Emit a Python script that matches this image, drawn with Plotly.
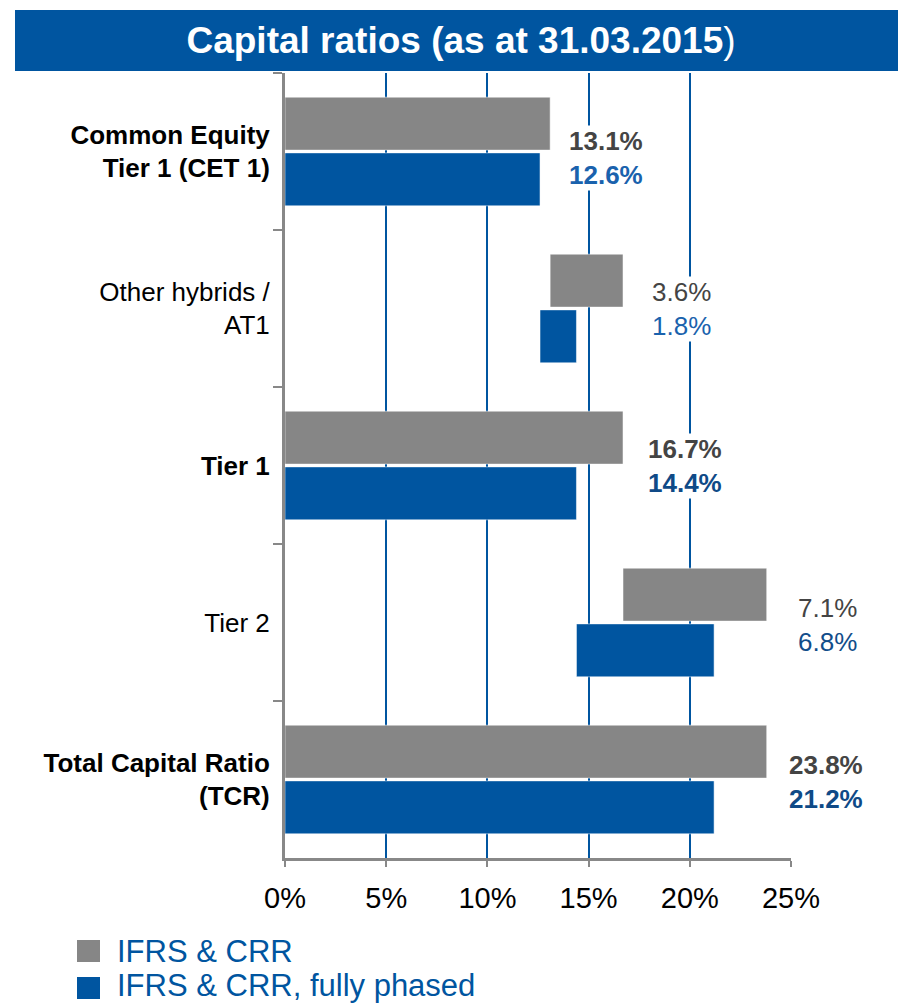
import plotly.graph_objects as go

# ---- data ----
categories = ["Common Equity Tier 1 (CET 1)", "Other hybrids / AT1", "Tier 1", "Tier 2",
              "Total Capital Ratio (TCR)"]
tick_labels = ["<b>Common Equity</b><br><b>Tier 1 (CET 1)</b>", "Other hybrids /<br>AT1",
               "<b>Tier 1</b>", "Tier 2", "<b>Total Capital Ratio</b><br><b>(TCR)</b>"]
bar_kind = ["total", "increment", "total", "increment", "total"]
ifrs_crr = [13.1, 3.6, 16.7, 7.1, 23.8]
fully_phased = [12.6, 1.8, 14.4, 6.8, 21.2]
series_names = ["IFRS & CRR", "IFRS & CRR, fully phased"]
x_ticks = [0, 5, 10, 15, 20, 25]
x_tick_text = ["0%", "5%", "10%", "15%", "20%", "25%"]

# ---- styles ----
FONT = "Liberation Sans, Arial, sans-serif"
GRAY = "#868686"
BLUE = "#0055A0"
AXIS_GRAY = "#888888"
label_bold = [True, False, True, False, True]
gray_label_color = "#444444"
blue_label_colors = ["#1a62ad", "#1a62ad", "#0f4a87", "#124d8a", "#0f4a87"]
label_xshift = [56, 58, 62, 61, 59]
label_yshift = [-6, 0, 0, -2, -2]


def bases(values, kinds):
    out, prev_end = [], 0.0
    for v, k in zip(values, kinds):
        b = prev_end if k == "increment" else 0.0
        out.append(b)
        prev_end = b + v
    return out


ifrs_base = bases(ifrs_crr, bar_kind)
fp_base = bases(fully_phased, bar_kind)

fig = go.Figure()
fig.add_trace(go.Bar(y=tick_labels, x=ifrs_crr, base=ifrs_base, orientation="h",
                     name=series_names[0],
                     marker=dict(color=GRAY, line=dict(color="rgba(255,255,255,0.5)", width=1))))
fig.add_trace(go.Bar(y=tick_labels, x=fully_phased, base=fp_base, orientation="h",
                     name=series_names[1],
                     marker=dict(color=BLUE, line=dict(color="rgba(255,255,255,0.5)", width=1))))

# value labels
for i, lab in enumerate(tick_labels):
    a = f"{ifrs_crr[i]:.1f}%"
    b = f"{fully_phased[i]:.1f}%"
    if label_bold[i]:
        txt = (f"<b><span style='color:{gray_label_color}'>{a}</span></b><br>"
               f"<b><span style='color:{blue_label_colors[i]}'>{b}</span></b>")
    else:
        txt = (f"<span style='color:{gray_label_color}'>{a}</span><br>"
               f"<span style='color:{blue_label_colors[i]}'>{b}</span>")
    fig.add_annotation(x=ifrs_base[i] + ifrs_crr[i], y=lab, xref="x", yref="y",
                       text=txt, showarrow=False, xanchor="center", yanchor="middle",
                       xshift=label_xshift[i], yshift=label_yshift[i],
                       font=dict(family=FONT, size=26), bgcolor="white", borderpad=0,
                       align="center")

# title banner
fig.add_shape(type="rect", xref="paper", yref="paper", x0=-0.5336, x1=1.23, y0=1.0025, y1=1.0803,
              fillcolor=BLUE, line=dict(width=0), layer="above")

# custom legend
legend_rows = [(-104, -82, GRAY), (-141, -119, BLUE)]
for (y0, y1, c), name, ty in zip(legend_rows, series_names, [-0.1185, -0.163]):
    fig.add_shape(type="rect", xref="paper", yref="paper", xsizemode="pixel", ysizemode="pixel",
                  xanchor=0, yanchor=0, x0=-208, x1=-185, y0=y0, y1=y1,
                  fillcolor=c, line=dict(width=0))
    fig.add_annotation(x=-0.336, y=ty, xref="paper", yref="paper", text=name, showarrow=False,
                       xanchor="left", yanchor="middle", font=dict(family=FONT, size=31, color=BLUE))

fig.update_layout(
    width=898, height=1003,
    margin=dict(l=285, r=107, t=73, b=145),
    plot_bgcolor="white", paper_bgcolor="white",
    barmode="group", bargap=0.29, bargroupgap=0.05,
    showlegend=False,
    font=dict(family=FONT, color="black"),
    title=dict(text="<b>Capital ratios (as at 31.03.2015</b>)", x=0.5134, xref="container",
               y=1 - 40 / 1003, yref="container", xanchor="center", yanchor="middle",
               font=dict(family=FONT, size=37, color="white")),
)
fig.update_xaxes(range=[0, 25], tickmode="array", tickvals=x_ticks, ticktext=x_tick_text,
                 showgrid=True, gridcolor=BLUE, gridwidth=2, zeroline=False, showline=True,
                 linecolor=AXIS_GRAY, linewidth=3, ticks="outside", ticklen=6, tickwidth=2,
                 tickcolor=AXIS_GRAY, ticklabelstandoff=6,
                 tickfont=dict(family=FONT, size=29, color="black"))
fig.update_yaxes(type="category", autorange="reversed", showgrid=False, showline=True,
                 linecolor=AXIS_GRAY, linewidth=3, ticks="outside", tickson="boundaries",
                 ticklen=9, tickwidth=2, tickcolor=AXIS_GRAY, ticklabelstandoff=7,
                 tickfont=dict(family=FONT, size=26, color="black"))

fig.write_html("out.html", config={"displayModeBar": False},
               post_script="document.body.style.margin='0';document.body.style.overflow='hidden';")
